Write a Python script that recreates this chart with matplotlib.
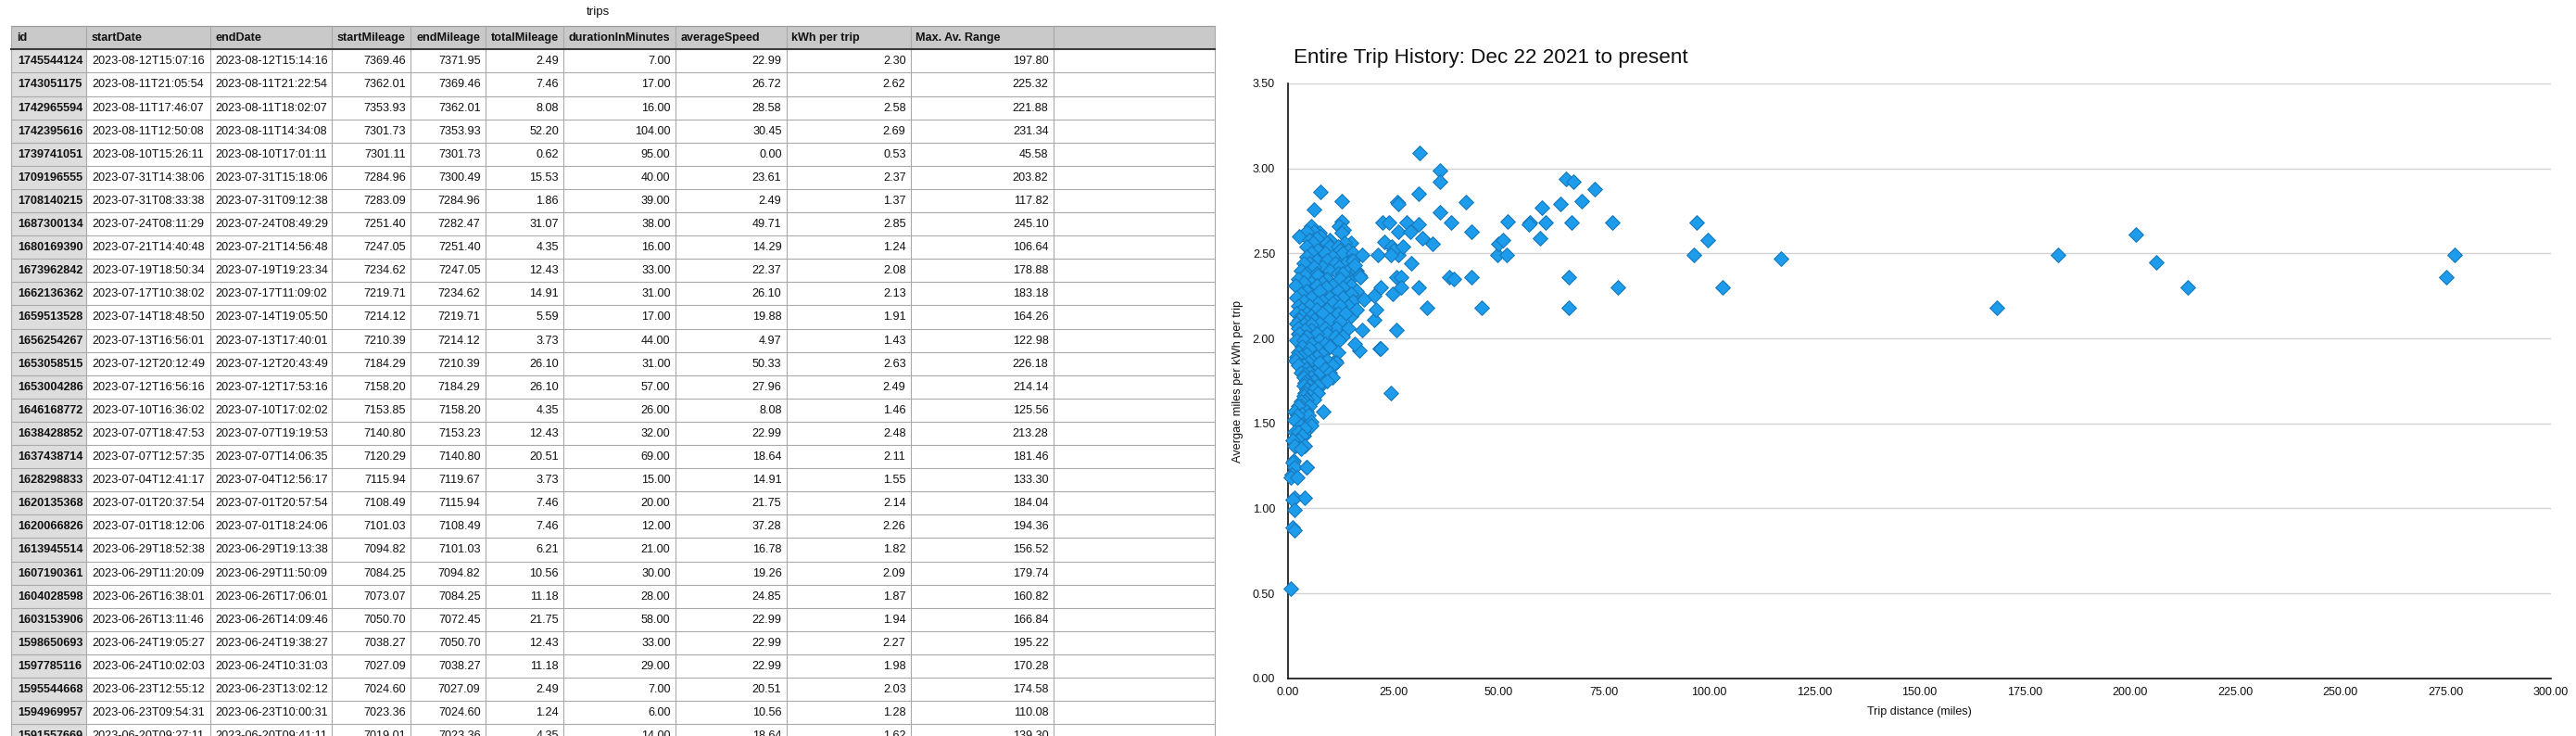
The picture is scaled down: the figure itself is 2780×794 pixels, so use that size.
import matplotlib
matplotlib.use("Agg")
import matplotlib.pyplot as plt
from matplotlib.patches import Rectangle

plt.rcParams['font.family'] = ['Liberation Sans', 'DejaVu Sans']

# ---------------- table data ----------------
table_title = "trips"
headers = ["id", "startDate", "endDate", "startMileage", "endMileage", "totalMileage",
           "durationInMinutes", "averageSpeed", "kWh per trip", "Max. Av. Range", ""]
ids = ["1745544124", "1743051175", "1742965594", "1742395616", "1739741051", "1709196555",
       "1708140215", "1687300134", "1680169390", "1673962842", "1662136362", "1659513528",
       "1656254267", "1653058515", "1653004286", "1646168772", "1638428852", "1637438714",
       "1628298833", "1620135368", "1620066826", "1613945514", "1607190361", "1604028598",
       "1603153906", "1598650693", "1597785116", "1595544668", "1594969957", "1591557669"]
start_dates = ["2023-08-12T15:07:16", "2023-08-11T21:05:54", "2023-08-11T17:46:07", "2023-08-11T12:50:08",
               "2023-08-10T15:26:11", "2023-07-31T14:38:06", "2023-07-31T08:33:38", "2023-07-24T08:11:29",
               "2023-07-21T14:40:48", "2023-07-19T18:50:34", "2023-07-17T10:38:02", "2023-07-14T18:48:50",
               "2023-07-13T16:56:01", "2023-07-12T20:12:49", "2023-07-12T16:56:16", "2023-07-10T16:36:02",
               "2023-07-07T18:47:53", "2023-07-07T12:57:35", "2023-07-04T12:41:17", "2023-07-01T20:37:54",
               "2023-07-01T18:12:06", "2023-06-29T18:52:38", "2023-06-29T11:20:09", "2023-06-26T16:38:01",
               "2023-06-26T13:11:46", "2023-06-24T19:05:27", "2023-06-24T10:02:03", "2023-06-23T12:55:12",
               "2023-06-23T09:54:31", "2023-06-20T09:27:11"]
end_dates = ["2023-08-12T15:14:16", "2023-08-11T21:22:54", "2023-08-11T18:02:07", "2023-08-11T14:34:08",
             "2023-08-10T17:01:11", "2023-07-31T15:18:06", "2023-07-31T09:12:38", "2023-07-24T08:49:29",
             "2023-07-21T14:56:48", "2023-07-19T19:23:34", "2023-07-17T11:09:02", "2023-07-14T19:05:50",
             "2023-07-13T17:40:01", "2023-07-12T20:43:49", "2023-07-12T17:53:16", "2023-07-10T17:02:02",
             "2023-07-07T19:19:53", "2023-07-07T14:06:35", "2023-07-04T12:56:17", "2023-07-01T20:57:54",
             "2023-07-01T18:24:06", "2023-06-29T19:13:38", "2023-06-29T11:50:09", "2023-06-26T17:06:01",
             "2023-06-26T14:09:46", "2023-06-24T19:38:27", "2023-06-24T10:31:03", "2023-06-23T13:02:12",
             "2023-06-23T10:00:31", "2023-06-20T09:41:11"]
start_mileage = [7369.46, 7362.01, 7353.93, 7301.73, 7301.11, 7284.96, 7283.09, 7251.40, 7247.05, 7234.62,
                 7219.71, 7214.12, 7210.39, 7184.29, 7158.20, 7153.85, 7140.80, 7120.29, 7115.94, 7108.49,
                 7101.03, 7094.82, 7084.25, 7073.07, 7050.70, 7038.27, 7027.09, 7024.60, 7023.36, 7019.01]
end_mileage = [7371.95, 7369.46, 7362.01, 7353.93, 7301.73, 7300.49, 7284.96, 7282.47, 7251.40, 7247.05,
               7234.62, 7219.71, 7214.12, 7210.39, 7184.29, 7158.20, 7153.23, 7140.80, 7119.67, 7115.94,
               7108.49, 7101.03, 7094.82, 7084.25, 7072.45, 7050.70, 7038.27, 7027.09, 7024.60, 7023.36]
total_mileage = [2.49, 7.46, 8.08, 52.20, 0.62, 15.53, 1.86, 31.07, 4.35, 12.43,
                 14.91, 5.59, 3.73, 26.10, 26.10, 4.35, 12.43, 20.51, 3.73, 7.46,
                 7.46, 6.21, 10.56, 11.18, 21.75, 12.43, 11.18, 2.49, 1.24, 4.35]
duration_minutes = [7.00, 17.00, 16.00, 104.00, 95.00, 40.00, 39.00, 38.00, 16.00, 33.00,
                    31.00, 17.00, 44.00, 31.00, 57.00, 26.00, 32.00, 69.00, 15.00, 20.00,
                    12.00, 21.00, 30.00, 28.00, 58.00, 33.00, 29.00, 7.00, 6.00, 14.00]
average_speed = [22.99, 26.72, 28.58, 30.45, 0.00, 23.61, 2.49, 49.71, 14.29, 22.37,
                 26.10, 19.88, 4.97, 50.33, 27.96, 8.08, 22.99, 18.64, 14.91, 21.75,
                 37.28, 16.78, 19.26, 24.85, 22.99, 22.99, 22.99, 20.51, 10.56, 18.64]
kwh_per_trip = [2.30, 2.62, 2.58, 2.69, 0.53, 2.37, 1.37, 2.85, 1.24, 2.08,
                2.13, 1.91, 1.43, 2.63, 2.49, 1.46, 2.48, 2.11, 1.55, 2.14,
                2.26, 1.82, 2.09, 1.87, 1.94, 2.27, 1.98, 2.03, 1.28, 1.62]
max_av_range = [197.80, 225.32, 221.88, 231.34, 45.58, 203.82, 117.82, 245.10, 106.64, 178.88,
                183.18, 164.26, 122.98, 226.18, 214.14, 125.56, 213.28, 181.46, 133.30, 184.04,
                194.36, 156.52, 179.74, 160.82, 166.84, 195.22, 170.28, 174.58, 110.08, 139.30]

# ---------------- chart data (other trips) ----------------
chart_title = "Entire Trip History: Dec 22 2021 to present"
x_label = "Trip distance (miles)"
y_label = "Avergae miles per kWh per trip"
x_ticks = [0, 25, 50, 75, 100, 125, 150, 175, 200, 225, 250, 275, 300]
y_ticks = [0.0, 0.5, 1.0, 1.5, 2.0, 2.5, 3.0, 3.5]

cluster_distance = [
    7.7, 12.7, 6.2,
    12.7, 12.1, 5.6, 13.2,
    6.2, 4.3, 12.7,
    2.6, 7.7, 6.8,
    5.0, 10.0,
    15.0, 6.0, 9.3, 13.5,
    9.9, 4.5, 11.8,
    7.0, 12.4, 14.3,
    5.6, 8.7, 13.0, 15.5,
    4.4, 10.6,
    6.8, 9.3, 14.9,
    5.0, 11.2, 13.6, 3.7,
    8.1, 12.0, 6.2,
    3.1, 9.9, 14.3, 16.2,
    4.4, 6.8, 11.8, 13.0,
    4.0, 7.0, 16.9,
    2.5, 9.3, 12.4,
    5.6, 8.1, 14.3, 3.7,
    1.8, 10.6, 15.0, 6.8,
    9.0, 13.0,
    4.4, 7.5, 11.8, 16.2,
    3.1, 14.9,
    5.6, 9.9, 1.9, 13.0,
    3.7, 8.1, 11.2, 15.5,
    7.0, 10.6,
    2.5, 5.0, 14.3, 12.4,
    3.3, 6.8, 9.3, 16.2,
    1.9, 4.4, 8.1, 11.8, 13.6,
    3.1, 5.6,
    2.6, 9.9, 6.2,
    12.4, 4.4,
    1.9, 7.5,
    3.7, 5.6,
    11.4, 2.5, 8.7, 14.3,
    5.5, 4.0,
    2.6, 9.3, 6.8,
    4.4, 11.2, 13.0,
    12.1, 1.9, 7.5, 3.7,
    5.6, 8.7,
    3.3, 9.9,
    7.0, 5.0,
    2.5, 11.8,
    4.4, 8.1,
    3.1, 6.8, 1.9,
    1.8, 9.2, 5.6,
    4.8, 11.4, 7.5,
    10.6, 3.7, 2.5,
    8.7, 4.4,
    5.0, 3.1, 9.9,
    4.0, 7.0,
    10.6, 5.6, 3.7,
    6.2, 4.4,
    4.0, 8.4, 9.3,
    5.0, 3.7, 7.0,
    4.4, 6.2,
    4.0, 7.0,
    5.0, 3.7,
    6.2, 4.4,
    4.0, 3.1,
    3.1, 5.0, 2.5,
    1.5, 8.3, 4.4,
    3.3, 4.8, 2.2,
    1.5, 5.6,
    5.5, 3.1,
    4.0,
    1.5, 2.5,
    3.3,
    2.5, 1.2,
    1.5, 4.0,
    3.1,
    1.1,
    1.5, 4.4,
    0.9, 0.74, 2.2,
    1.5, 4.0, 1.2,
    1.5, 1.1, 1.5,
]
cluster_efficiency = [
    2.86, 2.81, 2.76,
    2.69, 2.66, 2.66, 2.64,
    2.63, 2.63, 2.62,
    2.60, 2.60, 2.59,
    2.58, 2.58,
    2.56, 2.56, 2.56, 2.56,
    2.54, 2.54, 2.54,
    2.52, 2.52, 2.52,
    2.50, 2.50, 2.50, 2.50,
    2.48, 2.48,
    2.46, 2.46, 2.46,
    2.44, 2.44, 2.44, 2.44,
    2.42, 2.42, 2.42,
    2.40, 2.40, 2.40, 2.40,
    2.38, 2.38, 2.38, 2.38,
    2.37, 2.37, 2.37,
    2.35, 2.35, 2.35,
    2.33, 2.33, 2.33, 2.33,
    2.31, 2.31, 2.31, 2.31,
    2.30, 2.30,
    2.28, 2.28, 2.28, 2.28,
    2.26, 2.26,
    2.24, 2.24, 2.24, 2.24,
    2.22, 2.22, 2.22, 2.22,
    2.21, 2.21,
    2.19, 2.19, 2.19, 2.19,
    2.17, 2.17, 2.17, 2.17,
    2.15, 2.15, 2.15, 2.15, 2.15,
    2.13, 2.13,
    2.11, 2.11, 2.11,
    2.10, 2.10,
    2.09, 2.09,
    2.08, 2.08,
    2.06, 2.06, 2.06, 2.06,
    2.05, 2.05,
    2.03, 2.03, 2.03,
    2.01, 2.01, 2.01,
    1.99, 1.99, 1.99, 1.99,
    1.97, 1.97,
    1.95, 1.95,
    1.94, 1.94,
    1.92, 1.92,
    1.91, 1.91,
    1.89, 1.89, 1.89,
    1.87, 1.87, 1.87,
    1.86, 1.86, 1.86,
    1.84, 1.84, 1.84,
    1.82, 1.82,
    1.80, 1.80, 1.80,
    1.79, 1.79,
    1.77, 1.77, 1.77,
    1.75, 1.75,
    1.74, 1.74, 1.75,
    1.72, 1.72, 1.72,
    1.70, 1.70,
    1.68, 1.68,
    1.66, 1.66,
    1.64, 1.64,
    1.63, 1.63,
    1.60, 1.60, 1.60,
    1.57, 1.57, 1.57,
    1.555, 1.55, 1.55,
    1.52, 1.51,
    1.49, 1.49,
    1.47,
    1.45, 1.45,
    1.43,
    1.40, 1.40,
    1.37, 1.37,
    1.35,
    1.27,
    1.24, 1.24,
    1.20, 1.18, 1.18,
    1.06, 1.06, 1.05,
    0.99, 0.89, 0.87,
]
mid_distance = [25.9, 26.2, 22.4, 24.0, 28.1, 31.0, 23.0, 24.6, 25.0, 27.4, 29.0, 21.3, 17.6, 24.4,
                29.3, 25.7, 26.8, 24.9, 26.8, 31.0, 22.0, 20.5, 18.0, 20.9, 25.7, 17.6, 22.0, 16.9,
                15.8, 17.2, 15.4, 15.8, 24.4]
mid_efficiency = [2.80, 2.79, 2.68, 2.68, 2.68, 2.67, 2.57, 2.54, 2.52, 2.54, 2.63, 2.49, 2.49, 2.49,
                  2.44, 2.36, 2.36, 2.26, 2.30, 2.30, 2.30, 2.25, 2.23, 2.17, 2.05, 2.05, 1.94, 1.93,
                  1.97, 2.36, 2.46, 2.43, 1.68]
far_distance = [31.2, 36.1, 36.1, 36.1, 38.7, 42.3, 43.6, 43.6, 46.1, 38.2, 39.5, 34.4, 32.0, 33.1,
                49.8, 50.0, 51.0, 51.9, 57.4, 57.2, 59.8, 60.4, 61.1, 64.7, 66.0, 67.9, 69.8, 72.8,
                67.3, 66.6, 66.6, 77.1, 78.4, 97.0, 96.5, 99.7, 103.3, 117.0, 168.4, 182.8, 201.5,
                206.3, 213.7, 277.1, 275.2]
far_efficiency = [3.09, 2.99, 2.92, 2.74, 2.68, 2.80, 2.63, 2.36, 2.18, 2.36, 2.35, 2.555, 2.59, 2.18,
                  2.49, 2.555, 2.58, 2.49, 2.68, 2.67, 2.59, 2.77, 2.68, 2.79, 2.94, 2.92, 2.81, 2.88,
                  2.68, 2.36, 2.18, 2.68, 2.30, 2.68, 2.49, 2.58, 2.30, 2.47, 2.18, 2.49, 2.61,
                  2.45, 2.30, 2.49, 2.36]

# ---------------- layout ----------------
W, H, DPI = 2780, 794, 100
fig = plt.figure(figsize=(W / DPI, H / DPI), dpi=DPI)
fig.patch.set_facecolor("white")

# table drawn in an axes whose units are pixels
tax = fig.add_axes([0, 0, 1, 1])
tax.set_xlim(0, W)
tax.set_ylim(H, 0)
tax.axis("off")

col_edges = [12, 93, 226.5, 358, 443, 523.5, 608, 728.5, 848.5, 982.5, 1136.5, 1311]
header_top = 28.3
header_h = 25.0
row_h = 25.1
header_bottom = header_top + header_h
t_left, t_right = col_edges[0], col_edges[-1]
grid_c = "#a9a9a9"
fs = 9.1

tax.add_patch(Rectangle((t_left, header_top), t_right - t_left, header_h,
                        facecolor="#c9c9c9", edgecolor="none", zorder=1))
tax.add_patch(Rectangle((col_edges[0], header_bottom), col_edges[1] - col_edges[0], H,
                        facecolor="#dddddd", edgecolor="none", zorder=1))

rows = list(zip(ids, start_dates, end_dates, start_mileage, end_mileage, total_mileage,
                duration_minutes, average_speed, kwh_per_trip, max_av_range))
for k in range(1, len(rows) + 1):
    yy = header_bottom + k * row_h
    tax.plot([t_left, t_right], [yy, yy], color=grid_c, lw=0.8, zorder=2)
tax.plot([t_left, t_right], [header_top, header_top], color="#9c9c9c", lw=0.9, zorder=2)
for x in col_edges:
    tax.plot([x, x], [header_top, H + 40], color=grid_c, lw=0.8, zorder=2)
tax.plot([t_left, t_right], [header_bottom, header_bottom], color="#3c3c3c", lw=1.5, zorder=3)

tax.text(645, 13, table_title, fontsize=9.6, ha="center", va="center", color="#111111")

for j, name in enumerate(headers):
    if name:
        tax.text(col_edges[j] + 6, header_top + header_h / 2 + 0.5, name, fontsize=fs,
                 fontweight="bold", ha="left", va="center", color="#111111", zorder=4)

for i, r in enumerate(rows):
    yc = header_bottom + (i + 0.5) * row_h + 0.5
    tax.text(col_edges[0] + 7, yc, r[0], fontsize=fs, fontweight="bold",
             ha="left", va="center", color="#111111", zorder=4)
    tax.text(col_edges[1] + 6, yc, r[1], fontsize=fs, ha="left", va="center", color="#111111", zorder=4)
    tax.text(col_edges[2] + 6, yc, r[2], fontsize=fs, ha="left", va="center", color="#111111", zorder=4)
    for j in range(3, 10):
        tax.text(col_edges[j + 1] - 5, yc, f"{r[j]:.2f}", fontsize=fs, ha="right",
                 va="center", color="#111111", zorder=4)

# ---------------- scatter chart ----------------
ax_l, ax_r, ax_t, ax_b = 1390, 2753, 90, 731.7
ax = fig.add_axes([ax_l / W, (H - ax_b) / H, (ax_r - ax_l) / W, (ax_b - ax_t) / H])
ax.set_facecolor("none")

dist = total_mileage + cluster_distance + mid_distance + far_distance
eff = kwh_per_trip + cluster_efficiency + mid_efficiency + far_efficiency
ax.scatter(dist, eff, marker="D", s=64, facecolor="#1c9cea", edgecolor="#1878bd",
           linewidths=0.8, zorder=3, clip_on=False)

ax.set_xlim(0, 300)
ax.set_ylim(0, 3.5)
ax.set_xticks(x_ticks)
ax.set_xticklabels([f"{t:.2f}" for t in x_ticks])
ax.set_yticks(y_ticks)
ax.set_yticklabels([f"{t:.2f}" for t in y_ticks])
ax.grid(axis="y", color="#d2d2d2", lw=1.0)
ax.grid(axis="x", visible=False)
ax.set_axisbelow(True)
for s in ("top", "right"):
    ax.spines[s].set_visible(False)
for s in ("left", "bottom"):
    ax.spines[s].set_color("#111111")
    ax.spines[s].set_linewidth(1.2)
ax.tick_params(axis="both", length=0, labelsize=9, colors="#111111")
ax.tick_params(axis="y", pad=10)
ax.tick_params(axis="x", pad=7)

fig.text(1396 / W, 1 - 62.7 / H, chart_title, fontsize=16.2, ha="left", va="center", color="#111111")
fig.text(1336 / W, 1 - 411 / H, y_label, fontsize=9.2, rotation=90, ha="center", va="center",
         color="#111111")
fig.text(2071 / W, 1 - 768 / H, x_label, fontsize=9, ha="center", va="center", color="#111111")

fig.savefig("out.png", dpi=DPI, facecolor="white")
